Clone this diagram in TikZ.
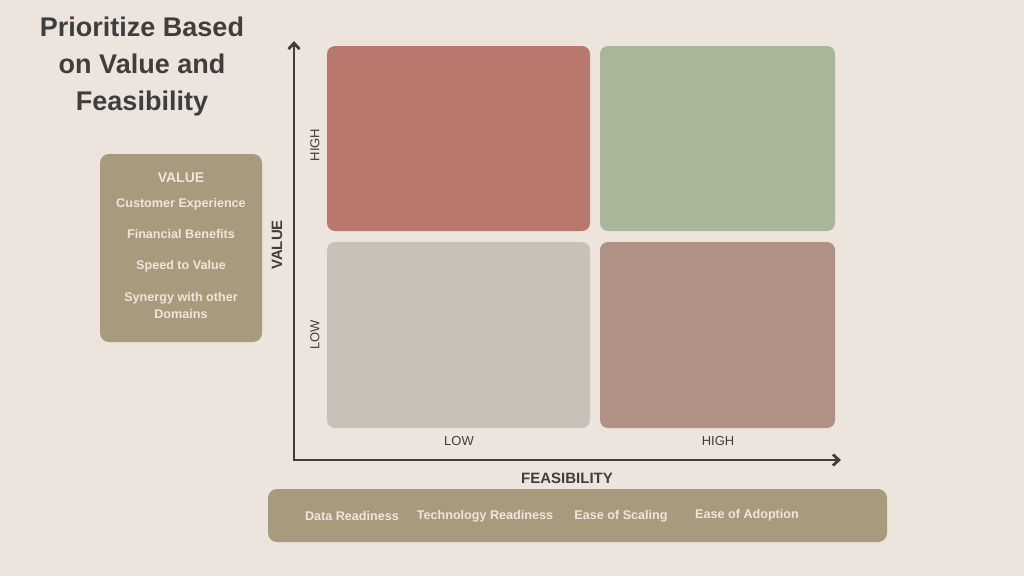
\documentclass[tikz,border=0pt]{standalone}
\usepackage{fontspec}
\setmainfont{Liberation Sans}
\usepackage{tikz}
\usetikzlibrary{arrows.meta}

\definecolor{bgpaper}{RGB}{237,228,222}
\definecolor{inkdark}{RGB}{62,62,62}
\definecolor{khaki}{RGB}{168,154,124}
\definecolor{boxtext}{RGB}{238,230,222}
\definecolor{redq}{RGB}{184,120,110}
\definecolor{greenq}{RGB}{169,182,154}
\definecolor{greyq}{RGB}{201,192,183}
\definecolor{mauveq}{RGB}{176,145,133}

\tikzset{
  boxlabel/.style={text=boxtext, font=\bfseries\fontsize{12.6}{14}\selectfont, align=center},
  axislabel/.style={text=inkdark, font=\fontsize{13}{15}\selectfont},
  axistitle/.style={text=inkdark, font=\bfseries\fontsize{15}{17}\selectfont},
}

\begin{document}
\begin{tikzpicture}[x=1pt, y=-1pt]
\fill[bgpaper] (0, 0) rectangle (1024, 576);
\useasboundingbox (0, 0) rectangle (1024, 576);

% title
\node[text=inkdark, font=\bfseries\fontsize{27}{37}\selectfont, align=center] (title) at (142, 67)
  {Prioritize Based\\on Value and\\Feasibility};

% value criteria box
\fill[khaki, rounded corners=9pt] (100, 154) rectangle (262, 342);
\node[boxlabel, font=\bfseries\fontsize{14}{16}\selectfont] (valhead) at (181, 178) {VALUE};
\node[boxlabel] (custexp) at (181, 204) {Customer Experience};
\node[boxlabel] (finben) at (181, 234) {Financial Benefits};
\node[boxlabel] (speed) at (181, 266) {Speed to Value};
\node[boxlabel, font=\bfseries\fontsize{12.6}{17}\selectfont] (synergy) at (181, 305.5) {Synergy with other\\Domains};

% quadrants
\fill[redq, rounded corners=8pt] (327, 46) rectangle (590, 231);
\fill[greenq, rounded corners=8pt] (600, 46) rectangle (835, 231);
\fill[greyq, rounded corners=8pt] (327, 242) rectangle (590, 428);
\fill[mauveq, rounded corners=8pt] (600, 242) rectangle (835, 428);

% axes
\coordinate (origin) at (294, 460);
\coordinate (ytop) at (294, 41);
\coordinate (xend) at (841, 460);
\draw[inkdark, line width=2.8pt, {Straight Barb[length=6pt, width=11pt]}-{Straight Barb[length=6pt, width=11pt]}]
  (ytop) |- (xend);

\node[axislabel, rotate=90] (vhigh) at (315, 145) {HIGH};
\node[axislabel, rotate=90] (vlow) at (315, 335) {LOW};
\node[axistitle, rotate=90] (vtitle) at (277, 245) {VALUE};
\node[axislabel] (flow) at (459, 441) {LOW};
\node[axislabel] (fhigh) at (718, 441) {HIGH};
\node[axistitle] (ftitle) at (567, 478) {FEASIBILITY};

% feasibility criteria box
\fill[khaki, rounded corners=9pt] (268, 489) rectangle (887, 542);
\node[boxlabel] (datar) at (352, 516) {Data Readiness};
\node[boxlabel] (techr) at (485, 516) {Technology Readiness};
\node[boxlabel] (scaling) at (621, 516) {Ease of Scaling};
\node[boxlabel] (adoption) at (747, 515) {Ease of Adoption};
\end{tikzpicture}
\end{document}
